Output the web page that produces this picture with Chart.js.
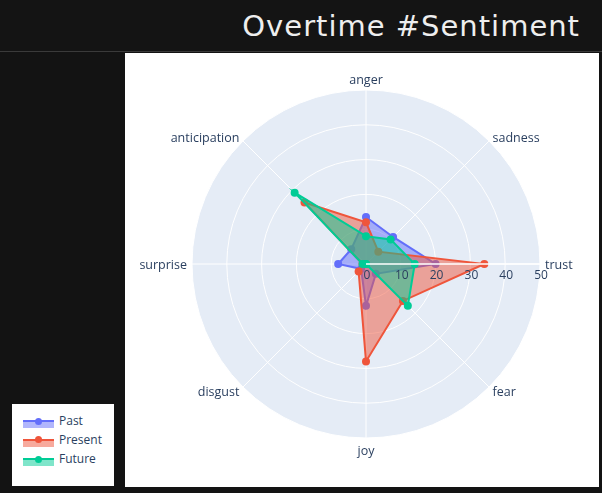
<!DOCTYPE html>
<html>
<head>
<meta charset="utf-8">
<script src="https://cdn.jsdelivr.net/npm/chart.js@4/dist/chart.umd.min.js"></script>
<style>
  html, body { margin: 0; padding: 0; }
  body { width: 602px; height: 493px; background: #131313; position: relative; overflow: hidden; font-family: "Open Sans", "DejaVu Sans", sans-serif; }
  #titlebar { position: absolute; left: 0; top: 0; width: 602px; height: 51px; background: #141414; border-bottom: 1px solid #3a3a3a; }
  #title { position: absolute; right: 22px; top: 9px; color: #eeeeee; font-family: "DejaVu Sans", sans-serif; font-size: 29px; letter-spacing: 1px; }
  #panel { position: absolute; left: 125px; top: 53px; width: 474px; height: 434px; background: #fff; }
  #chart { position: absolute; left: 0; top: 0; }
  #legend { position: absolute; left: 12px; top: 404px; width: 102px; height: 82px; background: #fff; }
  .item { position: absolute; left: 0; height: 16px; width: 102px; }
  .sym { position: absolute; left: 11px; top: 7px; width: 31px; height: 6px; }
  .dot { position: absolute; left: 12px; width: 7px; height: 7px; border-radius: 50%; }
  .lbl { position: absolute; left: 47px; top: 0; font-size: 12px; line-height: 16px; color: #2a3f5f; }
</style>
</head>
<body>
<div id="titlebar"><div id="title">Overtime #Sentiment</div></div>
<div id="panel"></div>
<canvas id="chart" width="602" height="493"></canvas>
<div id="legend"></div>
<script>
// ===== données =====
const emotions = ['anger', 'sadness', 'trust', 'fear', 'joy', 'disgust', 'surprise', 'anticipation'];
const pastValues = [13.5, 11, 20, 4, 12, 2, 8, 6];
const presentValues = [12, 5, 34, 15, 28, 3, 1, 25];
const futureValues = [8, 10, 14, 17, 0, 0, 1, 29];
const radialTicks = [0, 10, 20, 30, 40, 50];
const seriesNames = ['Past', 'Present', 'Future'];
const seriesColors = ['99,110,250', '239,85,59', '0,204,150'];

const seriesValues = [pastValues, presentValues, futureValues];

function makeDataset(i) {
  const rgb = seriesColors[i];
  return {
    label: seriesNames[i],
    data: seriesValues[i],
    order: 3 - i, // Future au-dessus
    fill: true,
    borderColor: `rgb(${rgb})`,
    backgroundColor: `rgba(${rgb},0.5)`,
    borderWidth: 2,
    pointRadius: 4,
    pointBackgroundColor: `rgb(${rgb})`,
    pointBorderWidth: 0
  };
}

// axe radial + étiquettes dessinés au-dessus des traces
const overlay = {
  id: 'overlay',
  afterDatasetsDraw(chart) {
    const scale = chart.scales.r;
    const ctx = chart.ctx;
    const axisIndex = emotions.indexOf('trust');
    ctx.save();

    // ligne de l'axe radial
    const end = scale.getPointPositionForValue(axisIndex, radialTicks[radialTicks.length - 1]);
    ctx.strokeStyle = '#fff';
    ctx.lineWidth = 1.5;
    ctx.beginPath();
    ctx.moveTo(scale.xCenter, scale.yCenter);
    ctx.lineTo(end.x, end.y);
    ctx.stroke();

    ctx.font = '12px "Open Sans", "DejaVu Sans", sans-serif';
    ctx.fillStyle = '#2a3f5f';

    // graduations
    ctx.textAlign = 'center';
    ctx.textBaseline = 'middle';
    radialTicks.forEach(v => {
      const p = scale.getPointPositionForValue(axisIndex, v);
      ctx.fillText(String(v), p.x + 1, p.y + 11.5);
    });

    // libellés angulaires
    ctx.font = '12.5px "Open Sans", "DejaVu Sans", sans-serif';
    emotions.forEach((name, i) => {
      const p = scale.getPointPosition(i, scale.drawingArea + 5);
      const dx = p.x - scale.xCenter;
      const dy = p.y - scale.yCenter;
      let y = p.y + 1.5;
      if (Math.abs(dx) <= 5) y = dy < 0 ? p.y + 2 : p.y + 2;
      ctx.textAlign = dx > 5 ? 'left' : (dx < -5 ? 'right' : 'center');
      ctx.textBaseline = Math.abs(dx) > 5 ? 'middle' : (dy < 0 ? 'bottom' : 'top');
      ctx.fillText(name, p.x, y);
    });
    ctx.restore();
  }
};

new Chart(document.getElementById('chart'), {
  type: 'radar',
  data: {
    labels: emotions,
    datasets: seriesNames.map((n, i) => makeDataset(i))
  },
  options: {
    responsive: false,
    animation: false,
    layout: { padding: { left: 192, right: 62, top: 90, bottom: 55 } },
    plugins: {
      legend: { display: false },
      tooltip: { enabled: false }
    },
    elements: { line: { tension: 0 } },
    scales: {
      r: {
        min: 0,
        max: 50,
        backgroundColor: '#e5ecf6',
        ticks: { display: false, stepSize: 10 },
        pointLabels: { display: false },
        grid: { circular: true, color: '#fff', lineWidth: 1 },
        angleLines: { color: '#fff', lineWidth: 1 }
      }
    }
  },
  plugins: [overlay]
});

// ===== légende =====
const legend = document.getElementById('legend');
const tops = [9, 27.5, 47];
seriesNames.forEach((name, i) => {
  const rgb = seriesColors[i];
  const item = document.createElement('div');
  item.className = 'item';
  item.style.top = tops[i] + 'px';
  item.innerHTML = `
    <div class="sym" style="background: rgba(${rgb},0.5); border-top: 2px solid rgb(${rgb});">
      <div class="dot" style="background: rgb(${rgb}); top: -4.5px;"></div>
    </div>
    <div class="lbl">${name}</div>`;
  legend.appendChild(item);
});
</script>
</body>
</html>
